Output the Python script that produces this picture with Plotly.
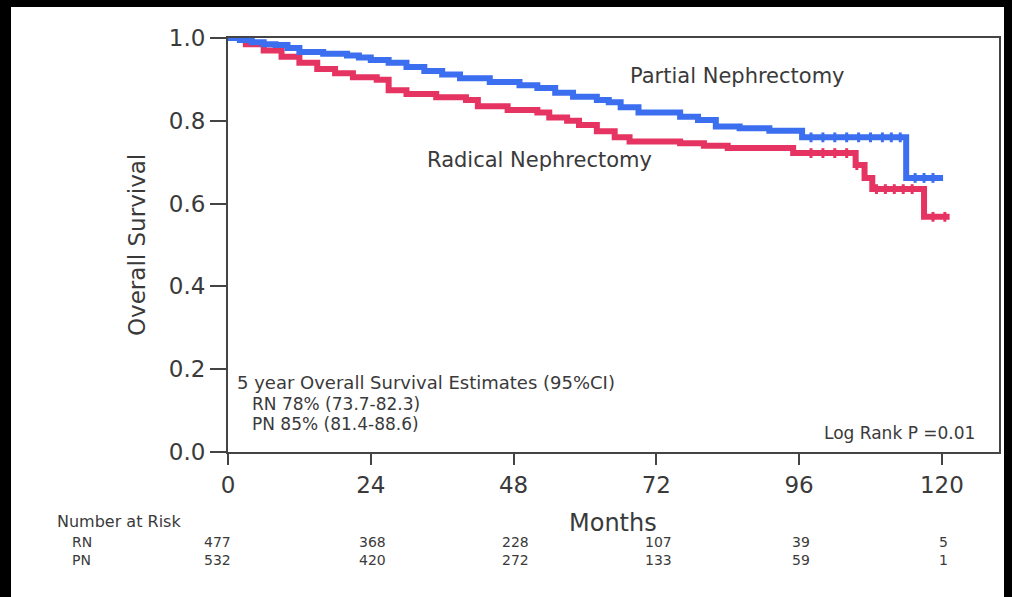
import numpy as np
import plotly.graph_objects as go

# ---------------- data ----------------
rn_time = [0, 3, 6, 9, 12, 15, 18, 21, 25, 27, 30, 35, 40, 42, 47, 52, 54, 57, 59, 62, 65, 67.5,
           76, 80, 84, 95, 105.5, 107, 108.3, 117, 121.3]
rn_surv = [1.0, 0.985, 0.97, 0.955, 0.94, 0.925, 0.915, 0.905, 0.899, 0.874, 0.865, 0.857, 0.85,
           0.835, 0.826, 0.82, 0.808, 0.80, 0.79, 0.775, 0.76, 0.75, 0.746, 0.74, 0.734, 0.722,
           0.693, 0.662, 0.635, 0.568, 0.568]

pn_time = [0, 2, 4, 6, 8, 10, 12, 16, 20, 22, 24, 27, 30, 33, 36, 39, 44, 49, 52, 55, 58, 62, 64,
           66, 69, 76, 79, 82, 86, 91, 96.5, 114, 120.2]
pn_surv = [1.0, 0.995, 0.99, 0.985, 0.983, 0.976, 0.966, 0.962, 0.958, 0.953, 0.947, 0.94, 0.93,
           0.92, 0.912, 0.903, 0.894, 0.886, 0.879, 0.868, 0.858, 0.85, 0.845, 0.833, 0.82, 0.81,
           0.802, 0.786, 0.782, 0.776, 0.76, 0.662, 0.662]

rn_censor = [98, 100, 102, 104, 105.7, 109, 110.5, 112, 113.5, 115, 118.5, 120.5]
pn_censor = [98, 100, 102, 104, 106, 108, 110, 111.5, 113, 115.5, 117, 118.5]

risk_times = [0, 24, 48, 72, 96, 120]
risk_rn = [477, 368, 228, 107, 39, 5]
risk_pn = [532, 420, 272, 133, 59, 1]

x_ticks = [0, 24, 48, 72, 96, 120]
y_ticks = [0.0, 0.2, 0.4, 0.6, 0.8, 1.0]

RED = "#e63462"
BLUE = "#3b6ff0"
TXT = "#3a3a3a"
FONT = "DejaVu Sans"


def step_at(times, surv, t):
    idx = np.searchsorted(np.array(times), t, side="right") - 1
    return [surv[i] for i in idx]


fig = go.Figure()
fig.add_trace(go.Scatter(x=rn_time, y=rn_surv, mode="lines",
                         line=dict(shape="hv", color=RED, width=6), showlegend=False))
fig.add_trace(go.Scatter(x=pn_time, y=pn_surv, mode="lines",
                         line=dict(shape="hv", color=BLUE, width=6), showlegend=False))
fig.add_trace(go.Scatter(x=rn_censor, y=step_at(rn_time, rn_surv, rn_censor), mode="markers",
                         marker=dict(symbol="line-ns", size=7, line=dict(width=3, color=RED)),
                         showlegend=False))
fig.add_trace(go.Scatter(x=pn_censor, y=step_at(pn_time, pn_surv, pn_censor), mode="markers",
                         marker=dict(symbol="line-ns", size=7, line=dict(width=3, color=BLUE)),
                         showlegend=False))

# geometry helpers (pixel -> paper)
L, T, W, H = 228, 38, 771, 414


def px(x):
    return (x - L) / W


def py(y):
    return (T + H - y) / H


def note(x, y, text, size, xref="paper", yref="paper", xanchor="center", **kw):
    return dict(x=x, y=y, xref=xref, yref=yref, text=text, showarrow=False,
                xanchor=xanchor, yanchor="middle",
                font=dict(size=size, color=TXT, family=FONT), **kw)


anns = []
# curve labels
anns.append(note(85.7, 0.908, "Partial Nephrectomy", 21, "x", "y"))
anns.append(note(52.4, 0.705, "Radical Nephrectomy", 21, "x", "y"))
# estimate box text
anns.append(note(1.2, 0.169, "5 year Overall Survival Estimates (95%CI)", 18, "x", "y", "left"))
anns.append(note(3.7, 0.116, "RN 78% (73.7-82.3)", 17, "x", "y", "left"))
anns.append(note(3.7, 0.068, "PN 85% (81.4-88.6)", 17, "x", "y", "left"))
anns.append(note(125.9, 0.046, "Log Rank P =0.01", 17, "x", "y", "right"))
# axis titles
anns.append(note(px(137), 0.5, "Overall Survival", 23, textangle=-90))
anns.append(note(px(613), py(523), "Months", 24))
# risk table
anns.append(note(px(55), py(521), "Number at Risk", 16, xanchor="left"))
anns.append(note(px(70), py(542), "RN", 14, xanchor="left"))
anns.append(note(px(70), py(560), "PN", 14, xanchor="left"))
for i, t in enumerate(risk_times):
    shift = -11 if i == 0 else 2
    anns.append(note(t, py(542), str(risk_rn[i]), 14, "x", "paper", xshift=shift))
    anns.append(note(t, py(560), str(risk_pn[i]), 14, "x", "paper", xshift=shift))

shapes = [dict(type="rect", xref="paper", yref="paper", x0=px(11), x1=px(1004),
               y0=py(600), y1=py(7), fillcolor="white", line=dict(width=0), layer="below")]

fig.update_layout(
    width=1012, height=597,
    margin=dict(l=L, r=1012 - L - W, t=T, b=597 - T - H, pad=0),
    paper_bgcolor="black", plot_bgcolor="white",
    annotations=anns, shapes=shapes, showlegend=False,
    font=dict(family=FONT, color=TXT),
)
fig.update_xaxes(range=[0, 129.6], tickvals=x_ticks, ticktext=[str(v) for v in x_ticks],
                 ticks="outside", ticklen=11, tickwidth=2, tickcolor="#444",
                 showline=True, linewidth=2, linecolor="#444", mirror=True,
                 showgrid=False, zeroline=False,
                 tickfont=dict(size=23, color=TXT, family=FONT))
fig.update_yaxes(range=[0, 1], tickvals=y_ticks, ticktext=[f"{v:.1f}" for v in y_ticks],
                 ticks="outside", ticklen=16, tickwidth=2, tickcolor="#444",
                 showline=True, linewidth=2, linecolor="#444", mirror=True,
                 showgrid=False, zeroline=False,
                 tickfont=dict(size=23, color=TXT, family=FONT))

fig.write_html("out.html", config={"displayModeBar": False},
               post_script="document.body.style.margin='0';document.body.style.background='black';")
